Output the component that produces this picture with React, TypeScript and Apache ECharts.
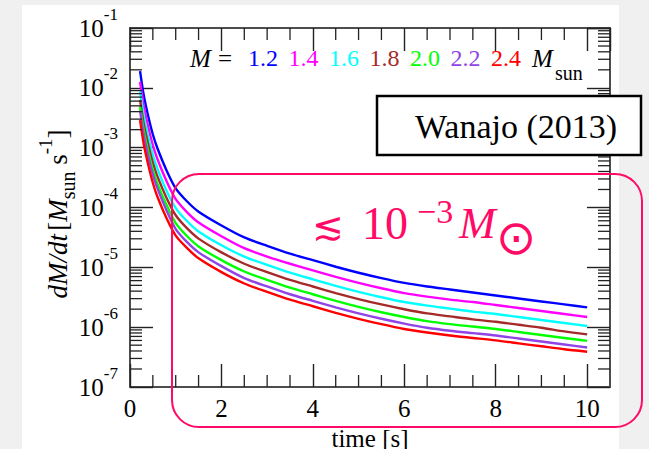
import React, { useEffect, useRef } from "react";
import * as echarts from "echarts";

// time [s]
const times = [0.22, 0.3, 0.4, 0.5, 0.6, 0.8, 1.0, 1.25, 1.5, 2.0, 2.5, 3.0, 3.5, 4.0, 4.5, 5.0, 5.5, 6.0, 6.5, 7.0, 7.5, 8.0, 8.5, 9.0, 9.5, 10.0];

// log10 of dM/dt [Msun s^-1], one array per mass
const logRateM12 = [-1.72, -2.12, -2.48, -2.78, -3.01, -3.38, -3.68, -3.90, -4.07, -4.30, -4.50, -4.64, -4.77, -4.88, -4.99, -5.09, -5.18, -5.26, -5.32, -5.37, -5.42, -5.47, -5.52, -5.57, -5.62, -5.67];
const logRateM14 = [-1.90, -2.30, -2.66, -2.96, -3.19, -3.56, -3.86, -4.08, -4.25, -4.48, -4.68, -4.82, -4.94, -5.05, -5.16, -5.26, -5.35, -5.43, -5.49, -5.54, -5.58, -5.63, -5.68, -5.73, -5.78, -5.83];
const logRateM16 = [-2.06, -2.46, -2.82, -3.12, -3.35, -3.72, -4.01, -4.23, -4.40, -4.63, -4.82, -4.96, -5.09, -5.20, -5.31, -5.41, -5.50, -5.58, -5.64, -5.69, -5.74, -5.78, -5.83, -5.88, -5.93, -5.98];
const logRateM18 = [-2.20, -2.60, -2.95, -3.25, -3.48, -3.84, -4.13, -4.35, -4.52, -4.75, -4.94, -5.08, -5.21, -5.32, -5.43, -5.53, -5.62, -5.70, -5.77, -5.82, -5.87, -5.91, -5.96, -6.01, -6.07, -6.12];
const logRateM20 = [-2.32, -2.71, -3.07, -3.37, -3.60, -3.96, -4.26, -4.48, -4.65, -4.88, -5.07, -5.21, -5.34, -5.45, -5.56, -5.66, -5.75, -5.83, -5.90, -5.95, -5.99, -6.03, -6.08, -6.13, -6.18, -6.23];
const logRateM22 = [-2.38, -2.79, -3.15, -3.45, -3.68, -4.05, -4.36, -4.58, -4.75, -4.98, -5.18, -5.32, -5.45, -5.56, -5.67, -5.77, -5.86, -5.94, -6.01, -6.06, -6.10, -6.14, -6.19, -6.24, -6.29, -6.34];
const logRateM24 = [-2.54, -2.94, -3.29, -3.59, -3.82, -4.18, -4.47, -4.68, -4.85, -5.08, -5.27, -5.41, -5.54, -5.65, -5.76, -5.86, -5.95, -6.03, -6.09, -6.14, -6.18, -6.22, -6.27, -6.32, -6.37, -6.41];

const massLabels = ["1.2", "1.4", "1.6", "1.8", "2.0", "2.2", "2.4"];
const seriesColors = ["#0000ff", "#ff00ff", "#00ffff", "#a52a2a", "#00ff00", "#9044e6", "#ff0000"];

const xMinorTicks = [0.5, 1, 1.5, 2.5, 3, 3.5, 4.5, 5, 5.5, 6.5, 7, 7.5, 8.5, 9, 9.5];
const yDecadeExponents = [-7, -6, -5, -4, -3, -2];
const yMinorMantissas = [2, 3, 4, 5, 6, 7, 8, 9];

const SERIF = "Liberation Serif";
const PINK = "#ff0a66";

export default function App() {
  const ref = useRef<HTMLDivElement>(null);

  useEffect(() => {
    const chart = echarts.init(ref.current!, null, { renderer: "svg" });
    const allLogs = [logRateM12, logRateM14, logRateM16, logRateM18, logRateM20, logRateM22, logRateM24];

    const lineSeries = allLogs.map((arr, i) => ({
      type: "line",
      name: massLabels[i],
      data: times.map((t, j) => [t, Math.pow(10, arr[j])]),
      showSymbol: false,
      symbol: "none",
      smooth: 0.25,
      lineStyle: { color: seriesColors[i], width: 2.4 },
      itemStyle: { color: seriesColors[i] },
      z: 3,
    }));

    const yMinorData: number[][] = [];
    yDecadeExponents.forEach((e) => yMinorMantissas.forEach((m) => yMinorData.push([0, m * Math.pow(10, e)])));

    const tickStyle = { stroke: "#222", lineWidth: 1.3 };

    const yMinorSeries = {
      type: "custom",
      silent: true,
      z: 4,
      data: yMinorData,
      renderItem: (_p: any, api: any) => {
        const v = api.value(1);
        const l = api.coord([0, v]);
        const r = api.coord([10.5, v]);
        return {
          type: "group",
          children: [
            { type: "line", shape: { x1: l[0], y1: l[1], x2: l[0] + 12, y2: l[1] }, style: tickStyle },
            { type: "line", shape: { x1: r[0] - 12, y1: r[1], x2: r[0], y2: r[1] }, style: tickStyle },
          ],
        };
      },
    };

    const xMinorSeries = {
      type: "custom",
      silent: true,
      z: 4,
      data: xMinorTicks.map((x) => [x, 1e-7]),
      renderItem: (_p: any, api: any) => {
        const x = api.value(0);
        const b = api.coord([x, 1e-7]);
        const t = api.coord([x, 1e-1]);
        return {
          type: "group",
          children: [
            { type: "line", shape: { x1: b[0], y1: b[1], x2: b[0], y2: b[1] - 12 }, style: tickStyle },
            { type: "line", shape: { x1: t[0], y1: t[1], x2: t[0], y2: t[1] + 12 }, style: tickStyle },
          ],
        };
      },
    };

    const axisLineStyle = { color: "#4d4d4d", width: 2 };
    const majorTick = { show: true, inside: true, length: 23, lineStyle: { color: "#222", width: 1.4 } };

    const xBase = {
      type: "value",
      min: 0,
      max: 10.5,
      interval: 2,
      axisLine: { show: true, onZero: false, lineStyle: axisLineStyle },
      axisTick: majorTick,
      minorTick: { show: false },
      splitLine: { show: false },
    };
    const yBase = {
      type: "log",
      logBase: 10,
      min: 1e-7,
      max: 1e-1,
      interval: 1,
      axisLine: { show: true, onZero: false, lineStyle: axisLineStyle },
      axisTick: majorTick,
      minorTick: { show: false },
      splitLine: { show: false },
    };

    const legendX = [248, 288.5, 329, 369.5, 410, 450.5, 491];

    const graphic: any[] = [
      { type: "rect", z: -100, shape: { x: 22, y: 5, width: 597, height: 444 }, style: { fill: "#ffffff" } },
      {
        type: "text",
        z: 50,
        x: 58,
        y: 214,
        rotation: Math.PI / 2,
        style: {
          text: "{i|dM/dt} {n|[}{i|M}{sub|sun}{n| s}{sup|-1}{n|]}",
          align: "center",
          verticalAlign: "middle",
          rich: {
            i: { fontFamily: SERIF, fontStyle: "italic", fontSize: 27, fill: "#000" },
            n: { fontFamily: SERIF, fontSize: 27, fill: "#000" },
            sub: { fontFamily: SERIF, fontSize: 20, fill: "#000", padding: [20, 0, 0, 0] },
            sup: { fontFamily: SERIF, fontSize: 19, fill: "#000", padding: [0, 0, 26, 0] },
          },
        },
      },
      { type: "text", z: 50, x: 190, y: 58, style: { text: "M", fontFamily: SERIF, fontStyle: "italic", fontSize: 25, fill: "#000", verticalAlign: "middle" } },
      { type: "text", z: 50, x: 218, y: 58, style: { text: "=", fontFamily: SERIF, fontSize: 25, fill: "#000", verticalAlign: "middle" } },
      ...massLabels.map((m, i) => ({
        type: "text",
        z: 50,
        x: legendX[i],
        y: 58,
        style: { text: m, fontFamily: SERIF, fontSize: 24, fill: seriesColors[i], verticalAlign: "middle" },
      })),
      { type: "text", z: 50, x: 532, y: 58, style: { text: "M", fontFamily: SERIF, fontStyle: "italic", fontSize: 25, fill: "#000", verticalAlign: "middle" } },
      { type: "text", z: 50, x: 555, y: 73, style: { text: "sun", fontFamily: SERIF, fontSize: 20, fill: "#000", verticalAlign: "middle" } },
      { type: "rect", z: 60, shape: { x: 377, y: 96, width: 264, height: 59 }, style: { fill: "#fff", stroke: "#000", lineWidth: 2.5 } },
      { type: "text", z: 61, x: 516, y: 126, style: { text: "Wanajo (2013)", fontFamily: SERIF, fontSize: 34, fill: "#000", align: "center", verticalAlign: "middle" } },
      { type: "rect", z: 60, shape: { x: 172, y: 174, width: 470, height: 253, r: 27 }, style: { fill: "none", stroke: PINK, lineWidth: 2 } },
      { type: "text", z: 61, x: 312, y: 226, style: { text: "≲", fontFamily: "DejaVu Sans", fontSize: 38, fill: PINK, verticalAlign: "middle" } },
      { type: "text", z: 61, x: 362, y: 223, style: { text: "10", fontFamily: SERIF, fontSize: 46, fill: PINK, verticalAlign: "middle" } },
      { type: "text", z: 61, x: 417, y: 211, style: { text: "\u22123", fontFamily: SERIF, fontSize: 34, fill: PINK, verticalAlign: "middle" } },
      { type: "text", z: 61, x: 459, y: 223, style: { text: "M", fontFamily: SERIF, fontStyle: "italic", fontSize: 44, fill: PINK, verticalAlign: "middle" } },
      { type: "text", z: 61, x: 516, y: 237, style: { text: "\u2299", fontFamily: "DejaVu Sans", fontSize: 48, fill: PINK, align: "center", verticalAlign: "middle" } },
    ];

    chart.setOption({
      animation: false,
      backgroundColor: "#f0f0f0",
      textStyle: { fontFamily: SERIF },
      grid: { left: 130, right: 39, top: 28, bottom: 62, containLabel: false, outerBoundsMode: "none" },
      xAxis: [
        {
          ...xBase,
          position: "bottom",
          axisLabel: {
            show: true,
            fontFamily: SERIF,
            fontSize: 25,
            color: "#000",
            margin: 9,
            showMaxLabel: false,
            formatter: (v: number) => (v % 2 === 0 ? String(v) : ""),
          },
          name: "time [s]",
          nameLocation: "middle",
          nameGap: 34,
          nameTextStyle: { fontFamily: SERIF, fontSize: 25, color: "#000" },
        },
        { ...xBase, position: "top", axisLabel: { show: false } },
      ],
      yAxis: [
        {
          ...yBase,
          position: "left",
          axisLabel: {
            show: true,
            margin: 12,
            fontFamily: SERIF,
            formatter: (v: number) => `{b|10}{s|${Math.round(Math.log10(v))}}`,
            rich: {
              b: { fontFamily: SERIF, fontSize: 25, color: "#000" },
              s: { fontFamily: SERIF, fontSize: 17, color: "#000", padding: [0, 0, 28, 0] },
            },
          },
        },
        { ...yBase, position: "right", axisLabel: { show: false } },
      ],
      graphic,
      series: [...lineSeries, yMinorSeries, xMinorSeries],
    });

    return () => chart.dispose();
  }, []);

  return <div ref={ref} style={{ position: "fixed", left: 0, top: 0, width: 649, height: 449 }} />;
}
